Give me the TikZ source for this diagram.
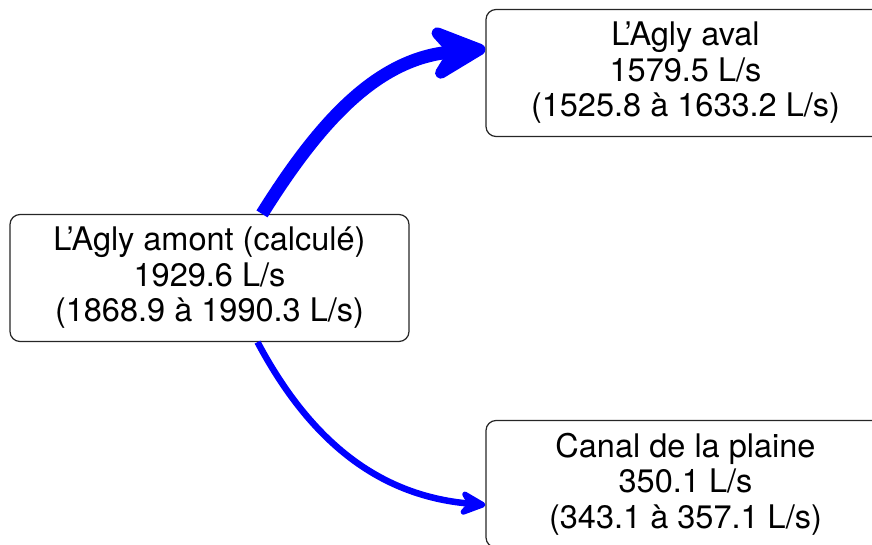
\documentclass[tikz,border=0pt]{standalone}
\usepackage{fontspec}
\setmainfont{TeX Gyre Heros}
\usetikzlibrary{arrows.meta,calc}
\begin{document}
\begin{tikzpicture}[x=1pt,y=1pt,
  flowbox/.style={draw=black!85, line width=1.2pt, rounded corners=10pt, align=center,
    minimum width=399pt, minimum height=127pt, inner sep=0pt,
    font=\fontsize{32.5}{35.5}\selectfont},
  bigflow/.style={draw=blue, line width=13pt, -{Stealth[length=72pt,width=70pt,inset=26pt,round]}},
  smallflow/.style={draw=blue, line width=6.5pt, -{Stealth[length=33pt,width=31pt,inset=11pt,round]}}]
\useasboundingbox (0,0) rectangle (872,-545);
\node[flowbox] (L) at (209.5,-278) {L’Agly amont (calculé)\\1929.6 L/s\\(1868.9 à 1990.3 L/s)};
\node[flowbox] (T) at (685.5,-73) {L’Agly aval\\1579.5 L/s\\(1525.8 à 1633.2 L/s)};
\node[flowbox] (B) at (685.5,-484) {Canal de la plaine\\350.1 L/s\\(343.1 à 357.1 L/s)};
\draw[bigflow] ($(L.north)+(52.5,0)$) to[out=58,in=185] ($(T.west)+(0,24)$);
\draw[smallflow] ($(L.south)+(48,0)$) to[out=-62,in=175] ($(B.west)+(0,-21)$);
\end{tikzpicture}
\end{document}
